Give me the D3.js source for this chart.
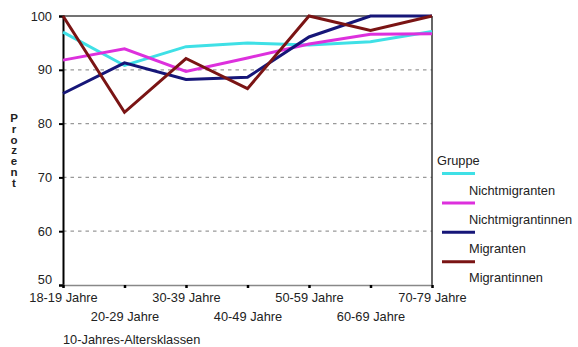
<!DOCTYPE html>
<html><head><meta charset="utf-8">
<script src="https://cdn.jsdelivr.net/npm/d3@7"></script>
<style>body{margin:0;background:#fff}svg{display:block;font-family:"Liberation Sans",Arial,sans-serif}</style>
</head><body><svg id="c" width="578" height="347"></svg>
<script>
const categories = ["18-19 Jahre","20-29 Jahre","30-39 Jahre","40-49 Jahre","50-59 Jahre","60-69 Jahre","70-79 Jahre"];
const nichtmigranten    = [97.0, 90.8, 94.3, 95.0, 94.6, 95.2, 97.1];
const nichtmigrantinnen = [91.8, 93.9, 89.7, 92.2, 94.8, 96.6, 96.7];
const migranten         = [85.6, 91.3, 88.2, 88.6, 96.1, 100, 100];
const migrantinnen      = [100, 82.1, 92.1, 86.5, 100, 97.3, 100];
const seriesNames = ["Nichtmigranten","Nichtmigrantinnen","Migranten","Migrantinnen"];
const seriesColors = ["#3fe0e6","#dd30dd","#161678","#7a1414"];
const yTicks = [50,60,70,80,90,100];
const series = [nichtmigranten, nichtmigrantinnen, migranten, migrantinnen];

const FS = 12.8;
const svg = d3.select("#c");
const L = 63, R = 432, T = 16, B = 285;
const x = d3.scalePoint().domain(categories).range([L, R]);
const y = d3.scaleLinear().domain([50, 100]).range([B, T]);

// gridlines
svg.append("g").selectAll("line").data([60,70,80,90]).join("line")
  .attr("x1", L).attr("x2", R).attr("y1", d => y(d)).attr("y2", d => y(d))
  .attr("stroke", "#999").attr("stroke-width", 1.2).attr("stroke-dasharray", "3.5,4");

// frame top and right
svg.append("line").attr("x1", L).attr("x2", R).attr("y1", T).attr("y2", T).attr("stroke", "#444").attr("stroke-width", 1.5);
svg.append("line").attr("x1", R).attr("x2", R).attr("y1", T).attr("y2", B).attr("stroke", "#333").attr("stroke-width", 1.5);

// y axis
const ya = svg.append("g").attr("transform", `translate(${L},0)`)
  .call(d3.axisLeft(y).tickValues(yTicks).tickSize(4).tickPadding(7));
ya.select(".domain").attr("stroke", "#000").attr("stroke-width", 2);
ya.selectAll(".tick line").attr("stroke", "#000").attr("stroke-width", 2);
ya.selectAll("text").attr("font-size", FS).attr("fill", "#222")
  .attr("y", d => d === 50 ? -6 : 0);

// x axis
const xa = svg.append("g").attr("transform", `translate(0,${B})`)
  .call(d3.axisBottom(x).tickSize(3).tickPadding(4));
xa.select(".domain").attr("stroke", "#888").attr("stroke-width", 1.5);
xa.selectAll(".tick line").attr("stroke", "#000").attr("stroke-width", 2.5);
xa.selectAll("text").attr("font-size", FS).attr("fill", "#222")
  .attr("dy", null).attr("y", (d, i) => i % 2 === 0 ? 16.5 : 35.5);

// lines
const line = d3.line().x((d, i) => x(categories[i])).y(d => y(d));
svg.append("g").selectAll("path").data(series).join("path")
  .attr("d", line).attr("fill", "none")
  .attr("stroke", (d, i) => seriesColors[i]).attr("stroke-width", 3)
  .attr("stroke-linejoin", "miter");

// y axis title (stacked letters)
const yt = "Prozent".split("");
svg.append("g").selectAll("text").data(yt).join("text")
  .attr("x", 14).attr("y", (d, i) => 122 + i * 10.8)
  .attr("text-anchor", "middle").attr("font-size", 11.5).attr("font-weight", "bold").attr("fill", "#222")
  .text(d => d);

// x axis title
svg.append("text").attr("x", 63).attr("y", 344).attr("font-size", FS).attr("fill", "#222")
  .text("10-Jahres-Altersklassen");

// legend
svg.append("text").attr("x", 437).attr("y", 164.5).attr("font-size", FS).attr("fill", "#222").text("Gruppe");
const lg = svg.append("g").selectAll("g").data(seriesNames).join("g");
lg.append("line").attr("x1", 442).attr("x2", 475)
  .attr("y1", (d, i) => 173.5 + i * 29.4).attr("y2", (d, i) => 173.5 + i * 29.4)
  .attr("stroke", (d, i) => seriesColors[i]).attr("stroke-width", 3);
lg.append("text").attr("x", 469).attr("y", (d, i) => 195 + i * 29)
  .attr("font-size", FS).attr("fill", "#222").text(d => d);
</script></body></html>
